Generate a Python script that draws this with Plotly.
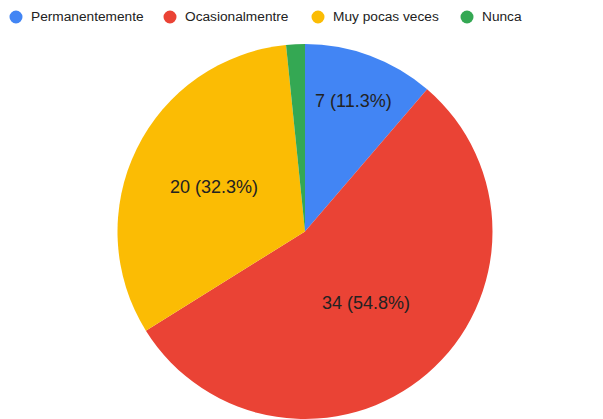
import plotly.graph_objects as go

categories = ["Permanentemente", "Ocasionalmentre", "Muy pocas veces", "Nunca"]
values = [7, 34, 20, 1]
colors = ["#4285F4", "#EA4335", "#FBBC04", "#34A853"]
slice_text = ["7 (11.3%)", "34 (54.8%)", "20 (32.3%)", ""]

# the page body adds an 8px offset; figure is sized so it ends at the window edge
OFF = 8
W, H = 603 - OFF, 419 - OFF
FONT = "Liberation Sans, Arial, sans-serif"

cx, cy, r = 305 - OFF, 231.5 - OFF, 187.5
fig = go.Figure()
fig.add_trace(go.Pie(
    labels=categories, values=values, sort=False, direction="clockwise", rotation=0,
    marker=dict(colors=colors, line=dict(width=0)),
    text=slice_text, textinfo="text", textposition="inside",
    insidetextorientation="horizontal",
    textfont=dict(family=FONT, size=18, color="#222222"),
    showlegend=False, hoverinfo="label+value+percent",
    domain=dict(x=[(cx - r) / W, (cx + r) / W], y=[(H - cy - r) / H, (H - cy + r) / H]),
))

# custom legend with round markers
circle_x = [16, 170, 318, 467]
for px, lab, col in zip(circle_x, categories, colors):
    px -= OFF
    py = 17 - OFF
    fig.add_shape(type="circle", xref="paper", yref="paper",
                  x0=(px - 6.5) / W, x1=(px + 6.5) / W,
                  y0=1 - (py + 6.5) / H, y1=1 - (py - 6.5) / H,
                  fillcolor=col, line=dict(width=0))
    fig.add_annotation(x=(px + 13) / W, y=1 - py / H, xref="paper", yref="paper",
                       text=lab, showarrow=False, xanchor="left", yanchor="middle",
                       font=dict(family=FONT, size=13.7, color="#222222"))

fig.update_layout(width=W, height=H, margin=dict(l=0, r=0, t=0, b=0),
                  paper_bgcolor="white", plot_bgcolor="white")
fig.write_html("out.html")
